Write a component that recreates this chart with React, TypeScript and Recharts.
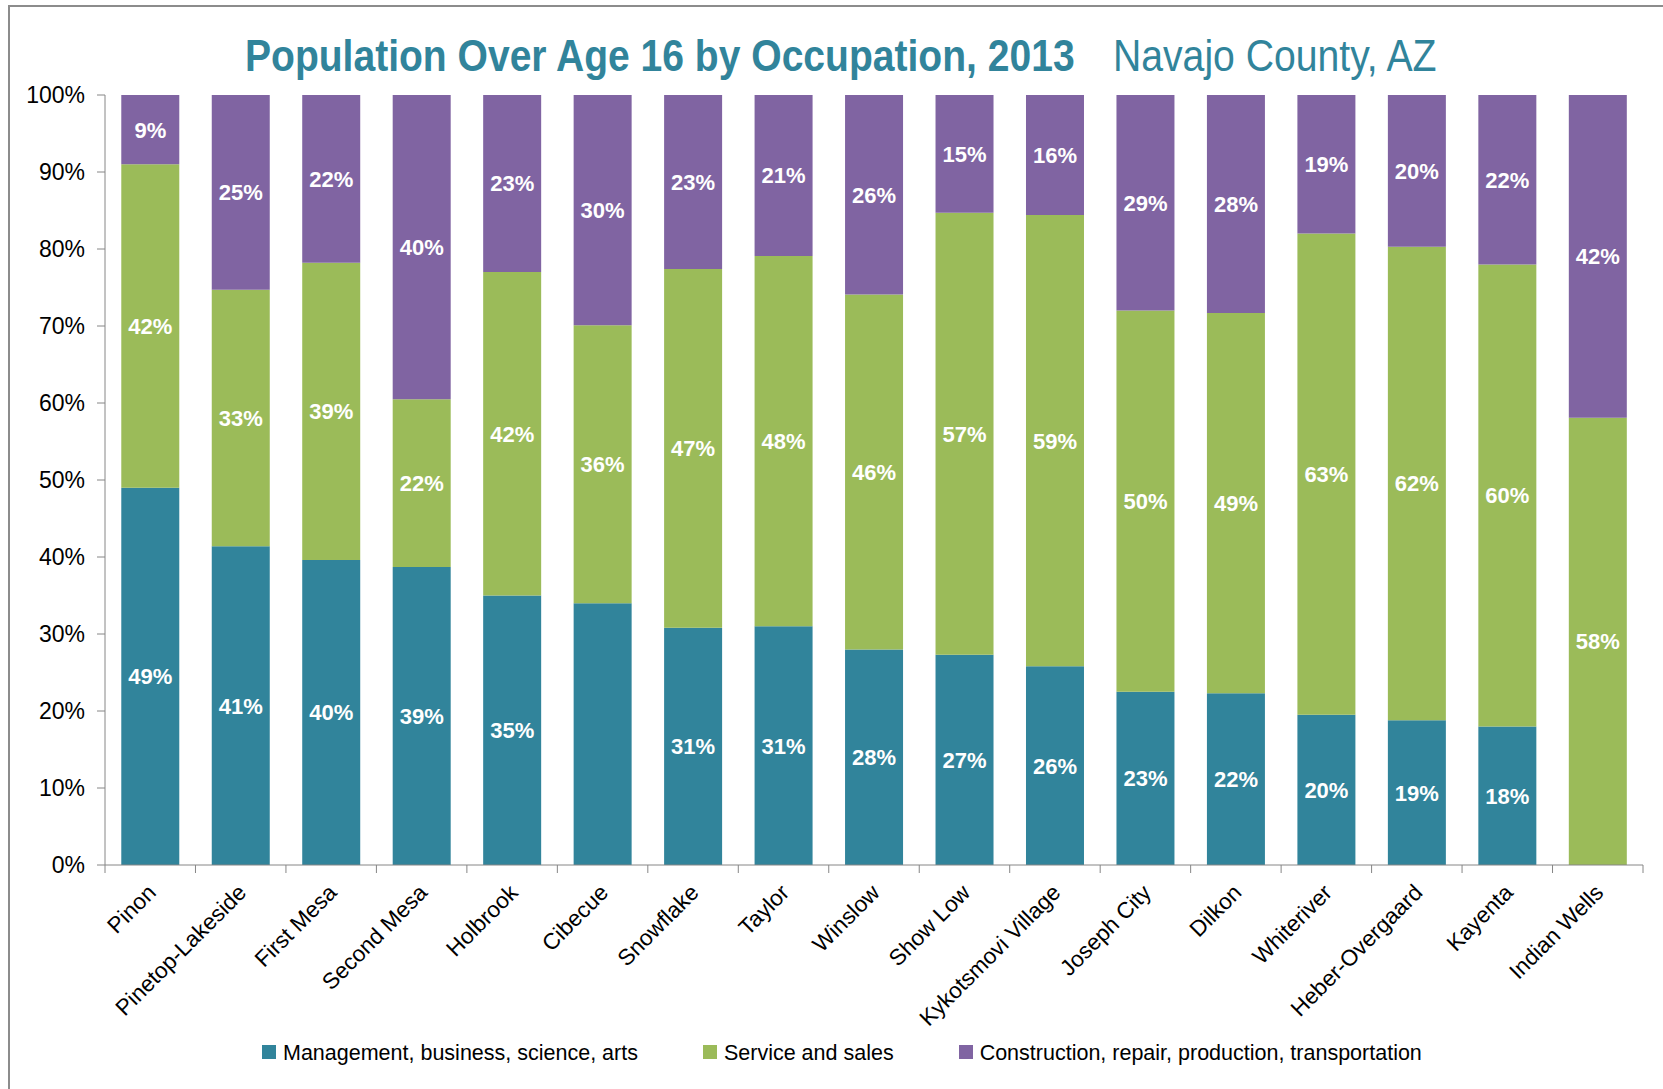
import { Bar, BarChart, LabelList, XAxis, YAxis } from "recharts";

const places = [
  "Pinon",
  "Pinetop-Lakeside",
  "First Mesa",
  "Second Mesa",
  "Holbrook",
  "Cibecue",
  "Snowflake",
  "Taylor",
  "Winslow",
  "Show Low",
  "Kykotsmovi Village",
  "Joseph City",
  "Dilkon",
  "Whiteriver",
  "Heber-Overgaard",
  "Kayenta",
  "Indian Wells",
];

const management = [49.0, 41.4, 39.6, 38.7, 35.0, 34.0, 30.8, 31.0, 28.0, 27.3, 25.8, 22.5, 22.3, 19.5, 18.8, 18.0, 0];
const service = [42.0, 33.3, 38.6, 21.8, 42.0, 36.1, 46.6, 48.1, 46.1, 57.4, 58.6, 49.5, 49.4, 62.5, 61.5, 60.0, 58.1];
const construction = [9.0, 25.3, 21.8, 39.5, 23.0, 29.9, 22.6, 20.9, 25.9, 15.3, 15.6, 28.5, 28.3, 18.5, 19.7, 22.0, 41.9];

const yTicks = [0, 10, 20, 30, 40, 50, 60, 70, 80, 90, 100];

// the source chart shows no value label on Cibecue's management segment
const hiddenManagementLabels = ["Cibecue"];

const seriesNames = [
  "Management, business, science, arts",
  "Service and sales",
  "Construction, repair, production, transportation",
];

const TEAL = "#31849b";
const GREEN = "#9bbb59";
const PURPLE = "#8064a2";
const AXIS = "#868686";
const FONT = "'Liberation Sans', Arial, sans-serif";

const data = places.map((name, i) => ({
  name,
  management: management[i],
  service: service[i],
  construction: construction[i],
}));

function CategoryTick(props: any) {
  const { x, y, payload } = props;
  const half = typeof payload.offset === "number" && payload.offset > 0 ? payload.offset : 1538 / places.length / 2;
  const last = payload.value === places[places.length - 1];
  return (
    <g>
      <line x1={x - half} x2={x - half} y1={y} y2={y + 8} stroke={AXIS} />
      {last && <line x1={x + half} x2={x + half} y1={y} y2={y + 8} stroke={AXIS} />}
      <text
        transform={`translate(${x + 7},${y + 29}) rotate(-45)`}
        textAnchor="end"
        fontSize={22.5}
        fontFamily={FONT}
        fill="#000"
      >
        {payload.value}
      </text>
    </g>
  );
}

const segmentLabel = (hidden: string[]) => (props: any) => {
  const { x, y, width, height, value, index } = props;
  if (!value || hidden.includes(places[index])) return null;
  return (
    <text
      x={Number(x) + Number(width) / 2}
      y={Number(y) + Number(height) / 2}
      dy="0.36em"
      textAnchor="middle"
      fill="#fff"
      fontSize={22}
      fontWeight="bold"
      fontFamily={FONT}
    >
      {Math.round(value)}%
    </text>
  );
};

export default function App() {
  const colors = [TEAL, GREEN, PURPLE];
  return (
    <div style={{ position: "relative", width: 1663, height: 1089, background: "#fff" }}>
      <style>{`body { margin: 0; }`}</style>
      <div
        style={{
          position: "absolute",
          left: 8,
          top: 5,
          right: 0,
          bottom: 0,
          borderTop: "2px solid #8c8c8c",
          borderLeft: "2px solid #8c8c8c",
        }}
      />
      <BarChart
        width={1663}
        height={1089}
        data={data}
        margin={{ top: 95, right: 20, left: 0, bottom: 0 }}
        barCategoryGap="18%"
      >
        <XAxis
          dataKey="name"
          height={224}
          interval={0}
          stroke={AXIS}
          tickLine={false}
          tickSize={0}
          tickMargin={0}
          tick={<CategoryTick />}
        />
        <YAxis
          width={105}
          domain={[0, 100]}
          allowDataOverflow
          ticks={yTicks}
          interval={0}
          tickFormatter={(v) => `${v}%`}
          stroke={AXIS}
          tickSize={8}
          tickMargin={12}
          tick={{ fill: "#000", fontSize: 23, fontFamily: FONT }}
        />
        <Bar dataKey="management" stackId="a" fill={TEAL} isAnimationActive={false}>
          <LabelList dataKey="management" content={segmentLabel(hiddenManagementLabels)} />
        </Bar>
        <Bar dataKey="service" stackId="a" fill={GREEN} isAnimationActive={false}>
          <LabelList dataKey="service" content={segmentLabel([])} />
        </Bar>
        <Bar dataKey="construction" stackId="a" fill={PURPLE} isAnimationActive={false}>
          <LabelList dataKey="construction" content={segmentLabel([])} />
        </Bar>
      </BarChart>
      <svg style={{ position: "absolute", left: 0, top: 0 }} width={1663} height={90}>
        {/* narrow title: natural-width text squeezed horizontally */}
        <text
          transform="translate(245,71) scale(0.866,1)"
          fontSize={45}
          fontWeight="bold"
          fill={TEAL}
          fontFamily={FONT}
          textLength={958}
          lengthAdjust="spacingAndGlyphs"
        >
          Population Over Age 16 by Occupation, 2013
        </text>
        <text
          transform="translate(1113,71) scale(0.858,1)"
          fontSize={45}
          fill={TEAL}
          fontFamily={FONT}
          textLength={377}
          lengthAdjust="spacingAndGlyphs"
        >
          Navajo County, AZ
        </text>
      </svg>
      <div
        style={{
          position: "absolute",
          left: 262,
          top: 1042,
          display: "flex",
          gap: 65,
          fontFamily: FONT,
          fontSize: 21.5,
          lineHeight: "22px",
          color: "#000",
          whiteSpace: "nowrap",
        }}
      >
        {seriesNames.map((name, i) => (
          <div key={name} style={{ display: "flex", alignItems: "center" }}>
            <span
              style={{ width: 14, height: 14, background: colors[i], marginRight: 7, marginTop: -2 }}
            />
            <span>{name}</span>
          </div>
        ))}
      </div>
    </div>
  );
}
